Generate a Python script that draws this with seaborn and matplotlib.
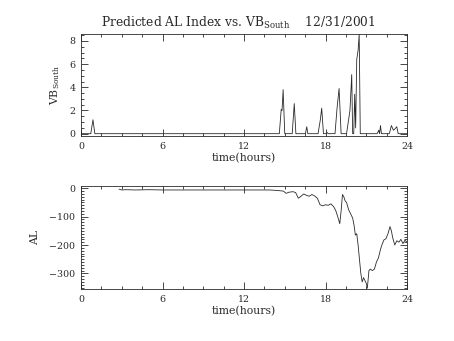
import matplotlib
matplotlib.use("Agg")
import matplotlib.pyplot as plt
from matplotlib.ticker import MultipleLocator
import pandas as pd
import seaborn as sns

# Southward IMF-driven coupling (VB_South), hours of 12/31/2001
vb_time = [0.00, 0.72, 0.88, 1.02,
           14.60, 14.74, 14.80, 14.88, 15.00,
           15.55, 15.70, 15.82,
           16.52, 16.62, 16.70,
           17.45, 17.62, 17.72, 17.85, 18.05, 18.12, 18.20,
           18.70, 18.85, 19.00, 19.15,
           19.55, 19.80, 19.93, 20.00, 20.08, 20.15, 20.22,
           20.30, 20.40, 20.48, 20.56,
           21.80, 21.92, 21.98, 22.05, 22.12,
           22.70, 22.85, 23.00, 23.10, 23.25, 23.35, 24.00]
vb_value = [0.0, 0.0, 1.2, 0.0,
            0.0, 2.1, 2.0, 3.8, 0.0,
            0.0, 2.6, 0.0,
            0.0, 0.6, 0.0,
            0.0, 1.2, 2.2, 0.0, 0.0, 0.1, 0.0,
            0.0, 2.2, 3.9, 0.0,
            0.0, 2.0, 5.1, 0.0, 0.0, 3.4, 0.5,
            6.4, 7.2, 8.6, 0.0,
            0.0, 0.3, 0.0, 0.7, 0.0,
            0.0, 0.7, 0.3, 0.4, 0.6, 0.0, 0.0]

# Predicted AL index (nT)
al_time = [2.8, 3.0, 3.3, 4.0, 5.0, 6.0, 8.0, 10.0, 12.0, 13.9,
           14.5, 14.9, 15.1, 15.3, 15.6, 15.8, 16.0, 16.2, 16.4, 16.6,
           16.8, 17.0, 17.2, 17.4, 17.6, 17.8, 18.0, 18.2, 18.4, 18.6,
           18.75, 18.9, 19.05, 19.15, 19.25, 19.35, 19.45, 19.55, 19.7, 19.85,
           20.0, 20.1, 20.2, 20.3, 20.4, 20.5, 20.6, 20.7, 20.8, 20.9,
           21.0, 21.08, 21.2, 21.3, 21.45, 21.6, 21.75, 21.9, 22.05, 22.15,
           22.3, 22.45, 22.6, 22.75, 22.85, 22.95, 23.1, 23.25, 23.4, 23.55,
           23.7, 23.85, 24.0]
al_value = [-3, -6, -5, -6, -5, -6, -6, -6, -6, -6,
            -8, -10, -18, -14, -12, -15, -35, -28, -20, -25,
            -28, -22, -27, -35, -58, -62, -58, -60, -55, -65,
            -78, -100, -125, -80, -22, -30, -45, -50, -75, -90,
            -105, -130, -165, -160, -200, -250, -300, -330, -315, -325,
            -335, -352, -290, -285, -290, -285, -260, -245, -215, -200,
            -182, -178, -160, -135, -150, -175, -200, -185, -190, -180,
            -195, -183, -190]

x_ticks = [0, 6, 12, 18, 24]

sns.set_style("ticks")
plt.rcParams["font.family"] = ["DejaVu Serif"]
plt.rcParams["mathtext.fontset"] = "dejavuserif"

ink = "#2a2a2a"
fig = plt.figure(figsize=(4.54, 3.41), dpi=100)
ax1 = fig.add_axes([81 / 454, 1 - 136 / 341, 326 / 454, 102 / 341])
ax2 = fig.add_axes([81 / 454, 1 - 289 / 341, 326 / 454, 103 / 341])

vb_df = pd.DataFrame({"t": vb_time, "v": vb_value})
al_df = pd.DataFrame({"t": al_time, "v": al_value})
sns.lineplot(data=vb_df, x="t", y="v", ax=ax1, color=ink, lw=0.6,
             estimator=None, sort=False)
sns.lineplot(data=al_df, x="t", y="v", ax=ax2, color=ink, lw=0.6,
             estimator=None, sort=False)

ax1.set_ylim(-0.2, 8.6)
ax1.yaxis.set_major_locator(MultipleLocator(2))
ax1.yaxis.set_minor_locator(MultipleLocator(0.5))
ax2.set_ylim(-355, 8)
ax2.yaxis.set_major_locator(MultipleLocator(100))
ax2.yaxis.set_minor_locator(MultipleLocator(10))

for ax in (ax1, ax2):
    ax.set_xlim(0, 24)
    ax.set_xticks(x_ticks)
    ax.xaxis.set_minor_locator(MultipleLocator(1.5))
    ax.tick_params(which="both", direction="in", top=True, right=True,
                   colors=ink, labelsize=6.8, width=0.6)
    ax.tick_params(which="major", length=5, pad=4)
    ax.tick_params(which="minor", length=2.2)
    for s in ax.spines.values():
        s.set_linewidth(0.6)
        s.set_color(ink)
    ax.set_xlabel("time(hours)", fontsize=7.8, color=ink, labelpad=2)

ax1.set_ylabel(r"VB$_{\mathrm{South}}$", fontsize=7.8, color=ink)
ax1.yaxis.set_label_coords(-0.058, 0.5)
ax2.set_ylabel("AL", fontsize=7.8, color=ink)
ax2.yaxis.set_label_coords(-0.126, 0.5)

fig.text(0.526, 1 - 27 / 341,
         r"Predicted AL Index vs. VB$_{\mathrm{South}}$    12/31/2001",
         ha="center", va="baseline", fontsize=8.8, color=ink)

fig.savefig("out.png", dpi=100)
